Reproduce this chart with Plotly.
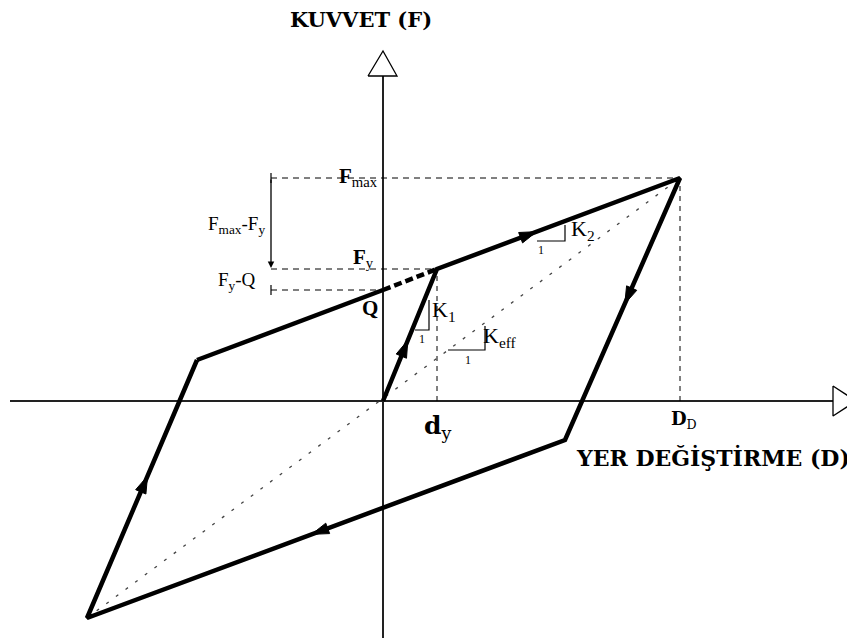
import math

import plotly.graph_objects as go

# hysteresis loop corners (displacement, force) in drawing units
LOOP_D = [0, 54, 297, 182, -296, -186, 0]
LOOP_F = [0, 132, 223, -39, -217, 41, 111]
D_Y, F_Y = 54, 132          # yield point
D_D, F_MAX = 297, 223       # design displacement / max force
Q_F = 111                   # characteristic strength Q (intercept)
BL_D, BL_F = -296, -217     # opposite peak

# direction arrows: (segment index on the loop, fraction along segment)
ARROWS = [(0, 0.46), (1, 0.41), (2, 0.48), (3, 0.53), (4, 0.55)]

SERIF = "Liberation Serif, Times New Roman, serif"
BOLD = "DejaVu Serif, serif"
LEFT = -112  # x of the Fmax-Fy dimension line

fig = go.Figure()


def line(x, y, width=1, dash="solid", color="black"):
    fig.add_trace(
        go.Scatter(
            x=x, y=y, mode="lines",
            line=dict(width=width, dash=dash, color=color),
            hoverinfo="skip", showlegend=False,
        )
    )


# axes with open triangle heads
line([-373, 450], [0, 0], width=2, color="#222")
line([0, 0], [-237, 325], width=2, color="#222")
line([450, 450, 473, 450], [15, -15, 0, 15], width=1.3)
line([-15, 14, 0, -15], [325, 325, 350, 325], width=1.3)

# reference dashed lines
line([LEFT, D_D], [F_MAX, F_MAX], dash="6px,5px")
line([LEFT, D_Y], [F_Y, F_Y], dash="6px,5px")
line([LEFT, 0], [Q_F, Q_F], dash="6px,5px")
line([D_Y, D_Y], [0, F_Y], dash="5px,5px")
line([D_D, D_D], [0, F_MAX], dash="5px,5px")

# effective stiffness diagonal
line([BL_D, D_D], [BL_F, F_MAX], width=1.3, dash="3px,9px", color="#444")

# dimension ticks
line([LEFT, LEFT], [F_MAX - 5, F_MAX + 5], width=1.2)
line([LEFT, LEFT], [Q_F - 5, Q_F + 5], width=1.2)

# the loop
line(LOOP_D[:6], LOOP_F[:6], width=4.5)
line([LOOP_D[5], LOOP_D[6]], [LOOP_F[5], LOOP_F[6]], width=4.5)
line([0, D_Y], [Q_F, F_Y], width=4.5, dash="8px,4px")

# slope triangles
line([32, 46, 46], [71, 71, 101], width=1.2)
line([65, 102, 102], [51, 51, 75], width=1.2)
line([154, 182, 182], [160, 160, 176], width=1.2)

# direction arrowheads along the loop
ax, ay, ang = [], [], []
for seg, t in ARROWS:
    x0, y0 = LOOP_D[seg], LOOP_F[seg]
    x1, y1 = LOOP_D[seg + 1], LOOP_F[seg + 1]
    ax.append(x0 + t * (x1 - x0))
    ay.append(y0 + t * (y1 - y0))
    ang.append(math.degrees(math.atan2(x1 - x0, y1 - y0)))
fig.add_trace(
    go.Scatter(
        x=ax, y=ay, mode="markers",
        marker=dict(symbol="arrow", size=18, angle=ang, color="black",
                    line=dict(width=1, color="black")),
        hoverinfo="skip", showlegend=False,
    )
)

# Fmax - Fy dimension arrow
annotations = [
    dict(x=LEFT, y=F_Y + 1, ax=LEFT, ay=F_MAX, xref="x", yref="y",
         axref="x", ayref="y", text="", showarrow=True, arrowhead=2,
         arrowsize=1, arrowwidth=1.3, arrowcolor="black"),
]


def label(x, y, text, size=20, family=SERIF, anchor="center"):
    annotations.append(
        dict(x=x, y=y, xref="x", yref="y", text=text, showarrow=False,
             xanchor=anchor, yanchor="middle",
             font=dict(family=family, size=size, color="black"))
    )


label(-22, 382, "<b>KUVVET (F)</b>", size=21, family=BOLD)
label(330, -56, "<b>YER DEĞİŞTİRME (D)</b>", size=22, family=BOLD)
label(-25, 224, "<b>F</b><sub>max</sub>", size=21)
label(-20, 143, "<b>F</b><sub>y</sub>", size=21)
label(-13, 93, "<b>Q</b>", size=21)
label(-147, 176, "F<sub>max</sub>-F<sub>y</sub>", size=19)
label(-146, 120, "F<sub>y</sub>-Q", size=19)
label(54, -26, "<b>d</b><sub>y</sub>", size=25, family=BOLD)
label(301, -19, "<b>D</b><sub>D</sub>", size=18, family=BOLD)
label(61, 90, "K<sub>1</sub>", size=22)
label(117, 64, "K<sub>eff</sub>", size=22)
label(200, 171, "K<sub>2</sub>", size=22)
label(39, 62, "1", size=12)
label(85, 41, "1", size=12)
label(158, 151, "1", size=12)

# the page keeps an 8px body margin, so the figure is sized to fit after it
fig.update_layout(
    width=847, height=630,
    margin=dict(l=0, r=0, t=0, b=0),
    paper_bgcolor="white", plot_bgcolor="white",
    xaxis=dict(range=[-375, 472], visible=False, fixedrange=True),
    yaxis=dict(range=[-237, 393], visible=False, fixedrange=True),
    annotations=annotations,
    showlegend=False,
)

fig.write_html("out.html")
